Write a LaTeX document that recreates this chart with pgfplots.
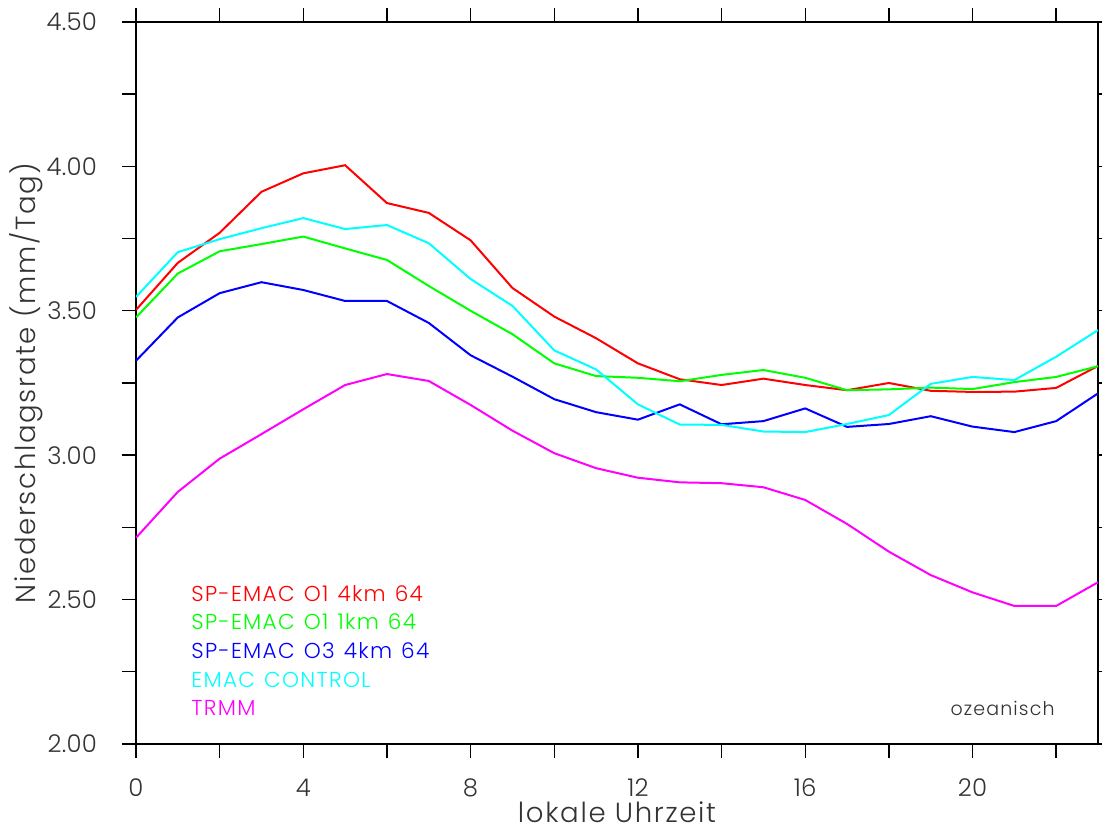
\documentclass[border=0pt]{standalone}
\usepackage{fontspec}
\setmainfont{Poppins}[UprightFont={* Light}, LetterSpace=6]
\newfontfamily\tickfont{Poppins}[UprightFont={* Light}, LetterSpace=1]
\usepackage{pgfplots}
\pgfplotsset{compat=1.18}
\definecolor{txt}{HTML}{333333}
\definecolor{cyanrgb}{RGB}{0,255,255}
\definecolor{magentargb}{RGB}{255,0,255}
\definecolor{greenrgb}{RGB}{0,255,0}

% hourly mean precipitation over ocean, local time 0..23 h
\pgfplotstableread{
h  a4   a1   o3   ctl  trmm
0  3.503 3.477 3.327 3.548 2.714
1  3.666 3.629 3.477 3.703 2.873
2  3.770 3.706 3.561 3.748 2.988
3  3.912 3.731 3.599 3.786 3.073
4  3.976 3.757 3.572 3.821 3.159
5  4.004 3.716 3.534 3.783 3.243
6  3.873 3.676 3.534 3.797 3.281
7  3.839 3.586 3.458 3.734 3.257
8  3.744 3.500 3.346 3.610 3.174
9  3.579 3.419 3.272 3.517 3.085
10 3.480 3.318 3.194 3.363 3.007
11 3.405 3.274 3.149 3.297 2.955
12 3.318 3.268 3.123 3.176 2.922
13 3.263 3.256 3.176 3.106 2.906
14 3.243 3.278 3.107 3.105 2.903
15 3.265 3.295 3.118 3.082 2.889
16 3.243 3.268 3.162 3.080 2.845
17 3.225 3.225 3.098 3.108 2.762
18 3.250 3.228 3.108 3.139 2.666
19 3.223 3.234 3.135 3.247 2.585
20 3.219 3.229 3.099 3.271 2.525
21 3.220 3.253 3.080 3.260 2.478
22 3.233 3.271 3.118 3.341 2.478
23 3.309 3.308 3.214 3.433 2.560
}\diurnal

\newcommand\ws{\hspace{0.42em}}

\begin{document}
\begin{tikzpicture}
\path[use as bounding box] (-68pt,-45pt) rectangle (483pt,372pt);
\begin{axis}[
  scale only axis,
  width=481pt, height=361pt,
  xmin=0, xmax=23, ymin=2, ymax=4.5,
  xtick={0,4,...,20}, minor xtick={2,6,...,22},
  ytick={2,2.5,...,4.5}, minor ytick={2.25,2.75,...,4.25},
  tick align=outside,
  major tick length=7pt, minor tick length=7pt,
  every tick/.style={black, line width=0.7pt},
  axis line style={black, line width=0.7pt},
  /pgf/number format/assume math mode=true,
  yticklabel style={/pgf/number format/fixed, /pgf/number format/fixed zerofill,
                    /pgf/number format/precision=2, xshift=-9pt},
  ticklabel style={font=\tickfont\fontsize{12.2}{14}\selectfont, text=txt},
  xticklabel style={yshift=-7pt},
  xlabel={lokale Uhrzeit},
  ylabel={Niederschlagsrate (mm/Tag)},
  label style={font=\fontsize{13.8}{16}\selectfont, text=txt},
  xlabel style={yshift=4.5pt},
  ylabel style={yshift=-5pt},
  every axis plot/.append style={line width=1pt, mark=none},
]
\addplot[red]        table[x=h, y=a4]   {\diurnal};
\addplot[greenrgb]   table[x=h, y=a1]   {\diurnal};
\addplot[blue]       table[x=h, y=o3]   {\diurnal};
\addplot[cyanrgb]    table[x=h, y=ctl]  {\diurnal};
\addplot[magentargb] table[x=h, y=trmm] {\diurnal};

\begin{scope}[every node/.style={anchor=west, inner sep=0pt, font=\fontsize{10.8}{12}\selectfont}]
\node[text=red]        at (rel axis cs:0.0572,0.2078) {SP-EMAC\ws O1\ws 4km\ws 64};
\node[text=greenrgb]   at (rel axis cs:0.0572,0.1690) {SP-EMAC\ws O1\ws 1km\ws 64};
\node[text=blue]       at (rel axis cs:0.0572,0.1288) {SP-EMAC\ws O3\ws 4km\ws 64};
\node[text=cyanrgb]    at (rel axis cs:0.0572,0.0886) {EMAC\ws CONTROL};
\node[text=magentargb] at (rel axis cs:0.0572,0.0499) {TRMM};
\end{scope}
\node[anchor=base east, inner sep=0pt, text=txt, font=\fontsize{9.5}{12}\selectfont]
  at (rel axis cs:0.9553,0.0388) {ozeanisch};
\end{axis}
\end{tikzpicture}
\end{document}
